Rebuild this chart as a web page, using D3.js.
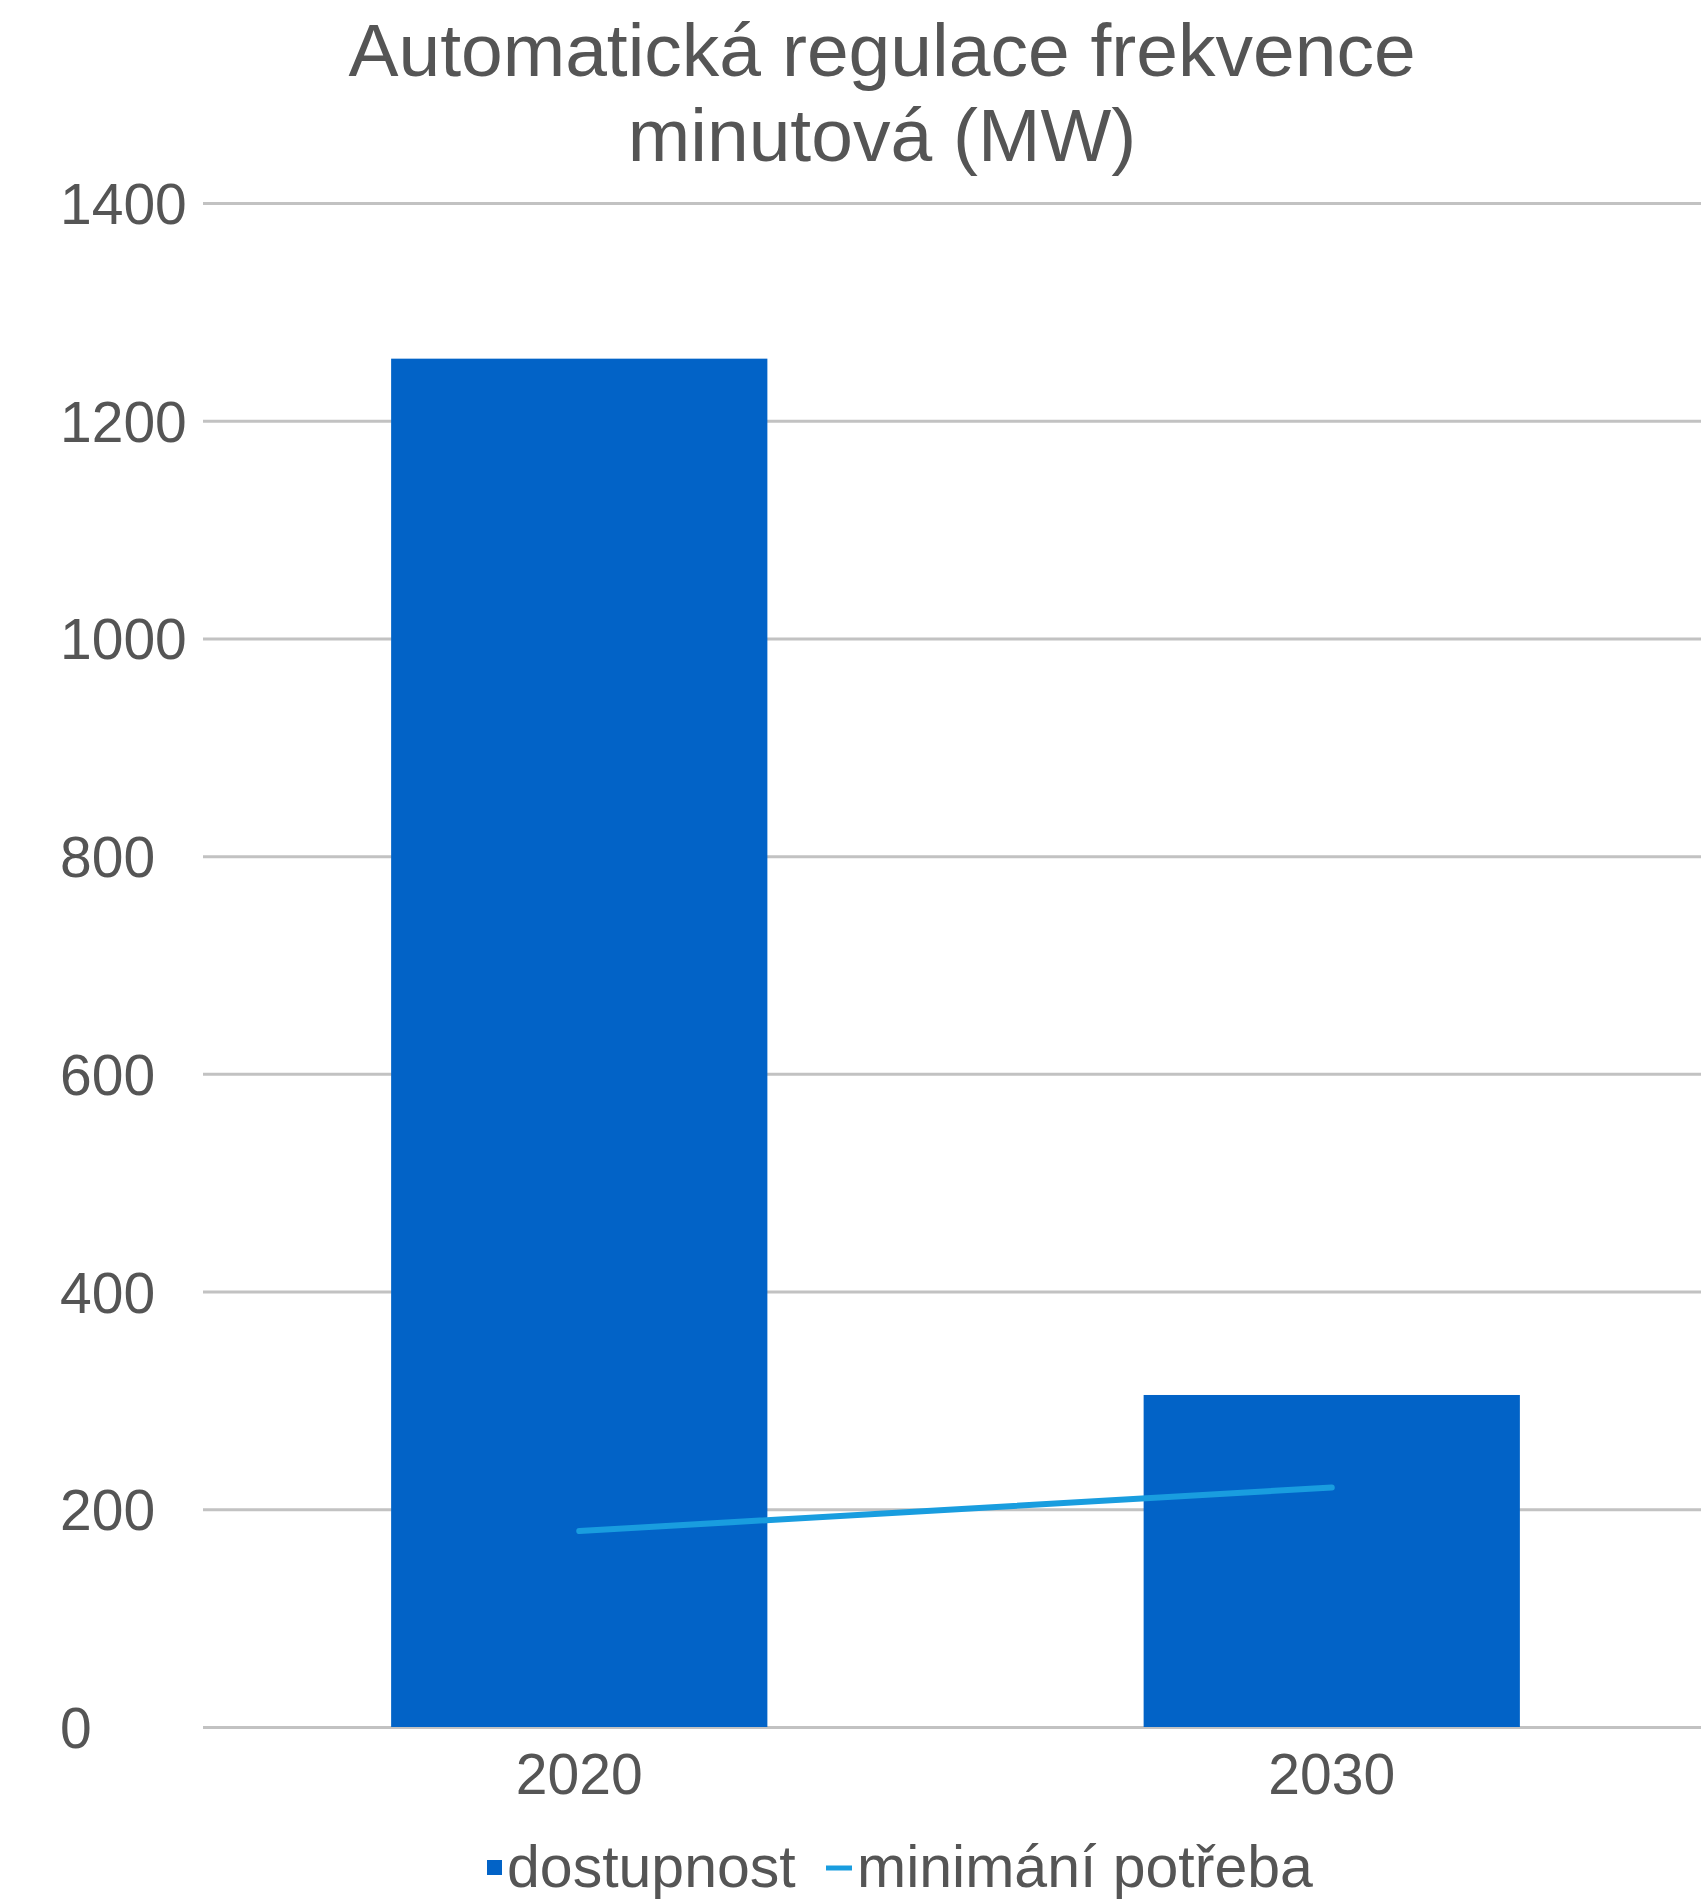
<!DOCTYPE html>
<html>
<head>
<meta charset="utf-8">
<script src="https://cdn.jsdelivr.net/npm/d3@7"></script>
<style>
  html, body { margin: 0; padding: 0; background: #ffffff; }
  svg { display: block; }
  text { font-family: "Liberation Sans", Arial, sans-serif; fill: #555555; }
</style>
</head>
<body>
<script>
// Chart data
const categories = ["2020", "2030"];
const dostupnost = [1257, 305];
const minimalniPotreba = [180, 220];
const yTicks = [0, 200, 400, 600, 800, 1000, 1200, 1400];
const titleLines = ["Automatická regulace frekvence", "minutová (MW)"];
const seriesNames = ["dostupnost", "minimání potřeba"];

const W = 1701, H = 1899;
const plot = { left: 203, right: 1708, top: 203, bottom: 1727 };

const svg = d3.select("body").append("svg")
  .attr("width", W).attr("height", H);

svg.append("rect").attr("width", W).attr("height", H).attr("fill", "#ffffff");

const x = d3.scaleBand()
  .domain(categories)
  .range([plot.left, plot.right])
  .paddingInner(0.5)
  .paddingOuter(0.25);

const y = d3.scaleLinear()
  .domain([0, 1400])
  .range([plot.bottom, plot.top]);

// Title
svg.append("g").selectAll("text")
  .data(titleLines)
  .join("text")
  .attr("x", 882)
  .attr("y", (d, i) => 76 + i * 85)
  .attr("text-anchor", "middle")
  .attr("font-size", 75)
  .text(d => d);

// Horizontal gridlines with left-aligned value labels
const yAxis = d3.axisLeft(y)
  .tickValues(yTicks)
  .tickSize(-(plot.right - plot.left))
  .tickFormat(d3.format("d"));

const gy = svg.append("g")
  .attr("transform", `translate(${plot.left},0)`)
  .call(yAxis);
gy.select(".domain").remove();
gy.selectAll(".tick line")
  .attr("stroke", "#c2c2c2")
  .attr("stroke-width", 3);
gy.selectAll(".tick text")
  .attr("x", 60 - plot.left)
  .attr("dy", "0.36em")
  .attr("text-anchor", "start")
  .attr("font-size", 57)
  .attr("font-family", "Liberation Sans, Arial, sans-serif")
  .attr("fill", "#555555");

// Bars
svg.append("g").selectAll("rect")
  .data(categories.map((c, i) => ({ c, v: dostupnost[i] })))
  .join("rect")
  .attr("x", d => x(d.c))
  .attr("width", x.bandwidth())
  .attr("y", d => y(d.v))
  .attr("height", d => y(0) - y(d.v))
  .attr("fill", "#0263c7");

// Line series
const line = d3.line()
  .x((d, i) => x(categories[i]) + x.bandwidth() / 2)
  .y(d => y(d));

svg.append("path")
  .datum(minimalniPotreba)
  .attr("d", line)
  .attr("fill", "none")
  .attr("stroke", "#199ddf")
  .attr("stroke-width", 6)
  .attr("stroke-linecap", "round");

// Category axis labels
const xAxis = d3.axisBottom(x).tickSize(0).tickPadding(0);
const gx = svg.append("g")
  .attr("transform", `translate(0,${plot.bottom})`)
  .call(xAxis);
gx.select(".domain").remove();
gx.selectAll(".tick text")
  .attr("y", 67)
  .attr("dy", 0)
  .attr("font-size", 57)
  .attr("font-family", "Liberation Sans, Arial, sans-serif")
  .attr("fill", "#555555");

// Legend
const legend = svg.append("g");
legend.append("rect")
  .attr("x", 487).attr("y", 1860)
  .attr("width", 15).attr("height", 15)
  .attr("fill", "#0263c7");
legend.append("text")
  .attr("x", 507).attr("y", 1887)
  .attr("font-size", 59)
  .text(seriesNames[0]);
legend.append("line")
  .attr("x1", 826).attr("x2", 852)
  .attr("y1", 1868).attr("y2", 1868)
  .attr("stroke", "#199ddf")
  .attr("stroke-width", 5);
legend.append("text")
  .attr("x", 857).attr("y", 1887)
  .attr("font-size", 59)
  .text(seriesNames[1]);
</script>
</body>
</html>
